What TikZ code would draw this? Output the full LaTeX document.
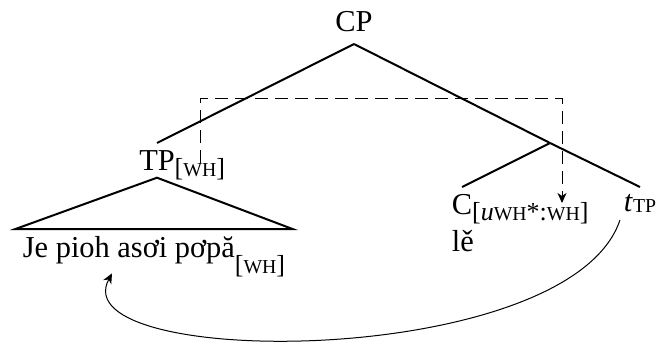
\documentclass[tikz,border=0pt]{standalone}
\usepackage{fontspec}
\setmainfont{Liberation Serif}
\usepackage{graphicx}
\usepackage{tikz}
\usetikzlibrary{arrows.meta}

% small caps features and subscripts that take no room
\newcommand{\feat}[1]{\scalebox{0.76}{#1}}
\newcommand{\lowsub}[2][-3pt]{\raisebox{#1}{\fontsize{13}{15}\selectfont #2}}
\newcommand{\sfeat}[1]{\rlap{\smash{\lowsub{#1}}}}

\begin{document}
\begin{tikzpicture}[x=0.5pt,y=-0.5pt,>={Stealth[length=5pt,width=4.5pt,inset=1.5pt]}]
\tikzset{lbl/.style={font=\fontsize{15.2}{18}\selectfont,inner sep=3.5pt},
branch/.style={line width=1pt},
feature/.style={line width=0.5pt,dash pattern=on 6.5pt off 3.5pt}}
\useasboundingbox (0,0) rectangle (658,343);

\node[lbl,anchor=south,inner ysep=6pt] (cp) at (354,44) {CP};
\node[lbl,anchor=north] (tp) at (157,143) {TP\sfeat{[\feat{WH}]}};
\coordinate (cbar) at (550,143);
\node[lbl,anchor=north] (c) at (462,187) {C\sfeat{[\textit{u}\feat{WH}*:\feat{WH}]}};
\node[lbl,anchor=base west] (le) at ([yshift=-18.5pt]c.base west) {lě};
\node[lbl,anchor=north] (t) at (640,187) {\textit{t}\lowsub[-0.5pt]{\feat{TP}}};
\node[lbl,anchor=north] (leaf) at (154,229) {Je pioh asơi pơpă\smash{\lowsub[-8pt]{[\feat{WH}]}}};

\draw[branch] (cp.south) -- (tp.north);
\draw[branch] (cp.south) -- (cbar) -- (t.north);
\draw[branch] (cbar) -- (c.north);
\draw[branch] (tp.south) -- (leaf.north west) -- (leaf.north east) -- cycle;

% feature checking
\coordinate (tpf) at (200,163);
\coordinate (cf) at (562,203);
\draw[feature,->] (tpf) -- ++(0,-65) -| (cf);

%\draw[semithick,->] (t.south) to [bend left=60] (leaf.south);
\draw[line width=0.5pt,->] ([xshift=-10pt]t.south) .. controls (570,370) and (60,370) .. ([xshift=-21pt,yshift=-1pt]leaf.south);

\end{tikzpicture}
\end{document}
